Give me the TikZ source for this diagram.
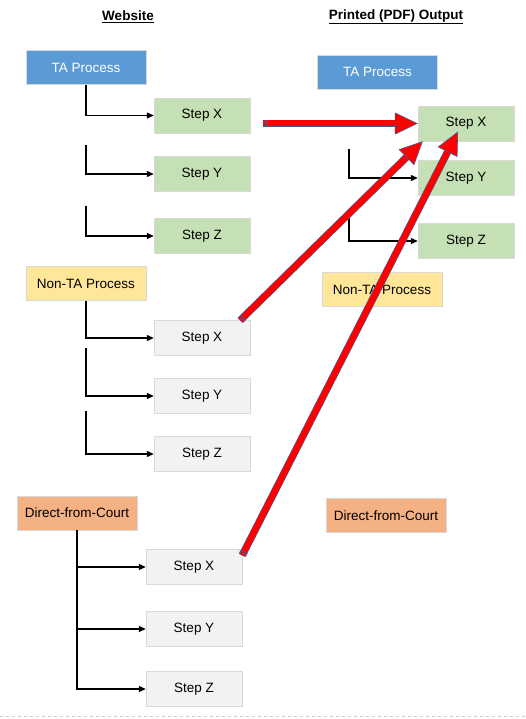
\documentclass[tikz,border=0pt]{standalone}
\usepackage{fontspec}
\setmainfont{Liberation Sans}
\usetikzlibrary{arrows.meta,calc}

\definecolor{taBlue}{RGB}{91,155,213}
\definecolor{stepGreen}{RGB}{197,224,180}
\definecolor{stepGrey}{RGB}{242,242,242}
\definecolor{ntYellow}{RGB}{255,230,153}
\definecolor{dcOrange}{RGB}{244,177,131}
\definecolor{edgeBlue}{RGB}{70,90,150}

\begin{document}
\begin{tikzpicture}[x=1pt,y=-1pt]
\useasboundingbox (0,0) rectangle (525,719);

\tikzstyle{proc}=[draw=black!15,minimum width=120pt,minimum height=34pt,inner sep=0pt,font=\fontsize{13.5}{16}\selectfont]
\tikzstyle{stepbox}=[proc,minimum width=96pt,minimum height=35pt]
\tikzstyle{head}=[font=\fontsize{13.5}{16}\selectfont\bfseries]
\tikzstyle{link}=[line width=1.2pt,-{Triangle[length=7pt,width=6pt]}]
\tikzstyle{bigarrow}=[draw=red,line width=6pt,
  preaction={draw=edgeBlue,line width=7.4pt,arrows=-,shorten >=20pt},
  -{Triangle[width=22pt,length=23pt,line width=.6pt,color=edgeBlue,fill=red]}]
\tikzstyle{tail}=[draw=edgeBlue,line width=.8pt]

% headings
\node[head] (webHead) at (128,17) {\underline{Website}};
\node[head] (pdfHead) at (396,17) {\underline{Printed (PDF) Output}};

% website column
\node[proc,fill=taBlue,text=white] (wTA) at (86,67.5) {TA Process};
\node[proc,fill=ntYellow] (wNT) at (86,283.5) {Non-TA Process};
\node[proc,fill=dcOrange] (wDC) at (77,513) {Direct-from-Court};
\foreach \name/\y/\text in {wTAx/115.5/X, wTAy/174/Y, wTAz/236/Z}
  \node[stepbox,fill=stepGreen] (\name) at (202,\y) {Step \text};
\foreach \name/\y/\text in {wNTx/338/X, wNTy/396/Y, wNTz/454/Z}
  \node[stepbox,fill=stepGrey] (\name) at (202,\y) {Step \text};
\foreach \name/\y/\text in {wDCx/567/X, wDCy/629/Y, wDCz/689/Z}
  \node[stepbox,fill=stepGrey] (\name) at (194,\y) {Step \text};

\coordinate (wTAy0) at (86,145);
\coordinate (wTAz0) at (86,206);
\coordinate (wNTy0) at (86,348);
\coordinate (wNTz0) at (86,411);
\draw[link] (wTA.south) |- (wTAx.west);
\draw[link] (wTAy0) |- (wTAy.west);
\draw[link] (wTAz0) |- (wTAz.west);
\draw[link] (wNT.south) |- (wNTx.west);
\draw[link] (wNTy0) |- (wNTy.west);
\draw[link] (wNTz0) |- (wNTz.west);
\draw[link] (wDC.south) |- (wDCz.west);
\draw[link] (wDC.south |- wDCx) -- (wDCx.west);
\draw[link] (wDC.south |- wDCy) -- (wDCy.west);

% printed column
\node[proc,fill=taBlue,text=white] (pTA) at (377.5,72) {TA Process};
\node[proc,fill=ntYellow] (pNT) at (382,289.5) {Non-TA Process};
\node[proc,fill=dcOrange] (pDC) at (386,515.5) {Direct-from-Court};
\foreach \name/\y/\text in {pTAx/123.5/X, pTAy/178/Y, pTAz/241/Z}
  \node[stepbox,fill=stepGreen] (\name) at (466,\y) {Step \text};

\coordinate (pTAy0) at (349,149);
\coordinate (pTAz0) at (349,218);
\draw[link] (pTAy0) |- (pTAy.west);
\draw[link] (pTAz0) |- (pTAz.west);

% red arrows
\coordinate (fromTA) at ($(wTAx.east)+(13,8)$);
\coordinate (fromNT) at ($(wNTx.north east)+(-10,0)$);
\coordinate (fromDC) at ($(wDCx.north east)+(0,6)$);
\coordinate (toNT) at ($(pTAx.south west)+(5,0)$);
\coordinate (toDC) at ($(pTAx.center)+(-8,8)$);
\draw[bigarrow] (fromTA) -- (fromTA -| pTAx.west);
\draw[bigarrow] (fromNT) -- (toNT);
\draw[bigarrow] (fromDC) -- (toDC);
% striped tails
\draw[tail] ($(fromTA)+(2,-3.7)$) -- ++(0,7.4) ($(fromTA)+(4,-3.7)$) -- ++(0,7.4);
\foreach \from/\to in {fromNT/toNT, fromDC/toDC}
  \draw[tail] ($(\from)!2pt!(\to)!3.7pt!90:(\to)$) -- ($(\from)!2pt!(\to)!3.7pt!-90:(\to)$)
              ($(\from)!4pt!(\to)!3.7pt!90:(\to)$) -- ($(\from)!4pt!(\to)!3.7pt!-90:(\to)$);

% page edge
\draw[black!20,dashed] (0,716) -- (525,716);
\end{tikzpicture}
\end{document}
